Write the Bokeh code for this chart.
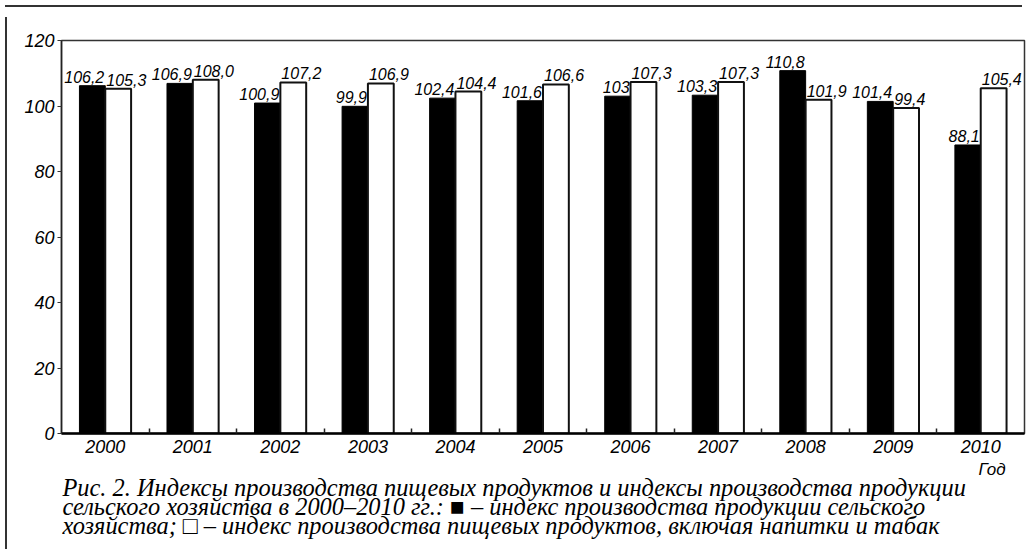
from bokeh.plotting import figure
from bokeh.models import Range1d, FixedTicker, Div, ColumnDataSource
from bokeh.layouts import column, row
from bokeh.embed import file_html
from bokeh.resources import INLINE
from bokeh.core.properties import value

years = ["2000", "2001", "2002", "2003", "2004", "2005", "2006", "2007", "2008", "2009", "2010"]
agri = [106.2, 106.9, 100.9, 99.9, 102.4, 101.6, 103.0, 103.3, 110.8, 101.4, 88.1]
food = [105.3, 108.0, 107.2, 106.9, 104.4, 106.6, 107.3, 107.3, 101.9, 99.4, 105.4]
agri_labels = ["106,2", "106,9", "100,9", "99,9", "102,4", "101,6", "103", "103,3", "110,8", "101,4", "88,1"]
food_labels = ["105,3", "108,0", "107,2", "106,9", "104,4", "106,6", "107,3", "107,3", "101,9", "99,4", "105,4"]
y_ticks = [0, 20, 40, 60, 80, 100, 120]

caption_lines = [
    "Рис. 2. Индексы производства пищевых продуктов и индексы производства продукции",
    "сельского хозяйства в 2000–2010 гг.: ■ – индекс производства продукции сельского",
    "хозяйства; □ – индекс производства пищевых продуктов, включая напитки и табак",
]
x_title = "Год"

n = len(years)
centers = [i + 0.5 for i in range(n)]
bw = 0.295
src = ColumnDataSource(dict(
    c=centers,
    xa=[c - bw / 2 for c in centers],
    xf=[c + bw / 2 for c in centers],
    agri=agri, food=food, al=agri_labels, fl=food_labels,
))

SANS = value("Liberation Sans")
SERIF = value("Liberation Serif")

p = figure(frame_width=963, frame_height=393, x_range=Range1d(0, n), y_range=Range1d(0, 120),
           output_backend="svg", toolbar_location=None,
           min_border_left=49, min_border_right=3, min_border_top=28, min_border_bottom=26)
p.background_fill_color = "white"
p.border_fill_color = "white"
p.outline_line_color = "#333333"
p.outline_line_width = 1.5
p.grid.visible = False

p.vbar(x="xa", top="agri", width=bw, bottom=0, source=src, fill_color="black", line_color="black", line_width=1)
p.vbar(x="xf", top="food", width=bw, bottom=0, source=src, fill_color="white", line_color="#111111", line_width=2)

p.text(x="c", y="agri", text="al", source=src, text_align="right", text_baseline="bottom",
       x_offset=-1, y_offset=-3, text_font=SANS, text_font_style="italic", text_font_size="16px", text_color="black")
p.text(x="c", y="food", text="fl", source=src, text_align="left", text_baseline="bottom",
       x_offset=1, y_offset=-3, text_font=SANS, text_font_style="italic", text_font_size="16px", text_color="black")

xa = p.xaxis[0]
xa.ticker = FixedTicker(ticks=centers, minor_ticks=list(range(1, n)))
xa.major_label_overrides = {c: y for c, y in zip(centers, years)}
xa.major_tick_in = 0
xa.major_tick_out = 0
xa.minor_tick_in = 5
xa.minor_tick_out = 0
xa.minor_tick_line_color = "#222222"
xa.minor_tick_line_width = 1.5
xa.axis_line_color = "black"
xa.axis_line_width = 2.5
xa.major_label_standoff = 6
xa.major_label_text_font = "Liberation Sans"
xa.major_label_text_font_style = "italic"
xa.major_label_text_font_size = "18px"
xa.major_label_text_color = "black"

ya = p.yaxis[0]
ya.ticker = FixedTicker(ticks=y_ticks, minor_ticks=[])
ya.major_tick_in = 0
ya.major_tick_out = 4
ya.major_tick_line_color = "#333333"
ya.major_tick_line_width = 1.2
ya.axis_line_color = "#222222"
ya.axis_line_width = 1.5
ya.major_label_standoff = 3
ya.major_label_text_font = "Liberation Sans"
ya.major_label_text_font_style = "italic"
ya.major_label_text_font_size = "18px"
ya.major_label_text_color = "black"

# caption panel (pixel coordinates)
CW, CH = 1015, 83
cap = figure(width=CW, height=CH, x_range=Range1d(0, CW), y_range=Range1d(CH, 0),
             output_backend="svg", toolbar_location=None, x_axis_type=None, y_axis_type=None,
             min_border=0)
cap.outline_line_color = None
cap.grid.visible = False
cap.background_fill_color = "white"
cap.border_fill_color = "white"
cap.text(x=[995], y=[10], text=[x_title], text_align="right", text_baseline="alphabetic",
         text_font=SANS, text_font_style="italic", text_font_size="17px", text_color="black")
cap.text(x=[1, 1, 1], y=[28, 47, 66], text=caption_lines, text_align="left", text_baseline="alphabetic",
         text_font=SERIF, text_font_style="italic", text_font_size="24.4px", text_color="black")

top_line = Div(width=1017, height=2, styles={"background-color": "#333333"})
left_line = Div(width=2, height=532, styles={"background-color": "#333333"})
layout = column(top_line, row(left_line, column(p, cap, spacing=0), spacing=0), spacing=0)

open("out.html", "w").write(file_html(layout, INLINE))
